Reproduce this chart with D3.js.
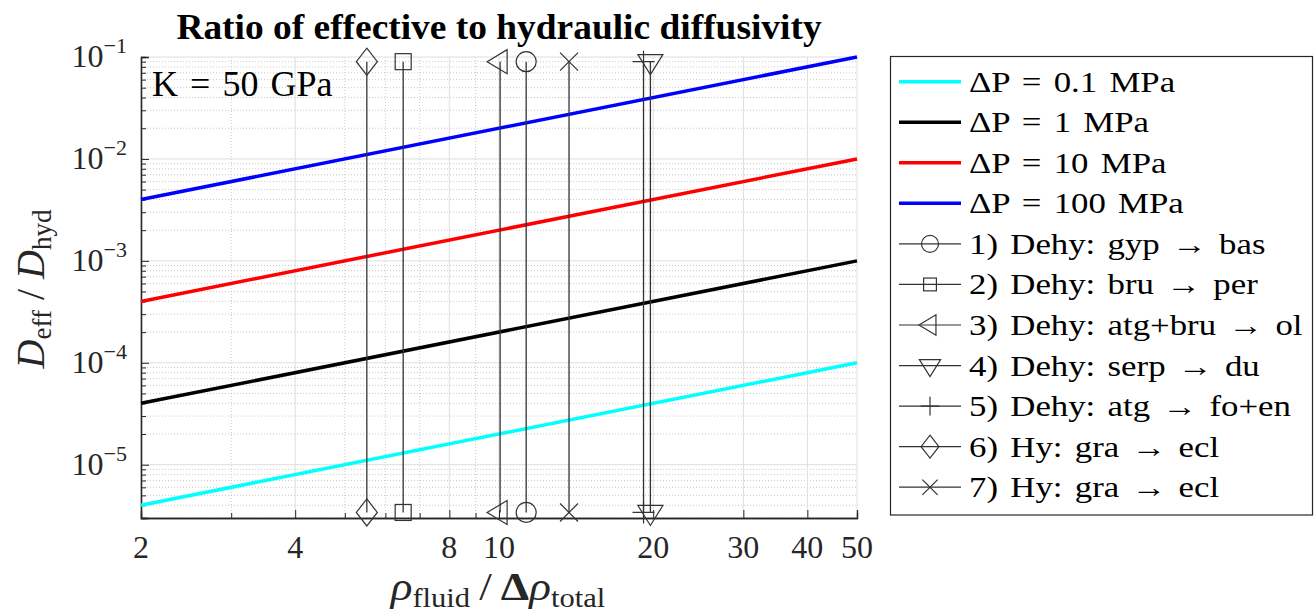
<!DOCTYPE html>
<html>
<head>
<meta charset="utf-8">
<script src="https://cdn.jsdelivr.net/npm/d3@7"></script>
<style>
  body { margin: 0; background: #fff; }
  svg { display: block; font-family: "Liberation Serif", "DejaVu Serif", serif; }
</style>
</head>
<body>
<div id="chart"></div>
<script>
// --- data ---
const xEnds = [2, 50];
const pressureLabels = ["ΔP = 0.1 MPa", "ΔP = 1 MPa", "ΔP = 10 MPa", "ΔP = 100 MPa"];
const ratioAtEnds = [
    [4e-6, 1e-4],
    [4e-5, 1e-3],
    [4e-4, 1e-2],
    [4e-3, 1e-1]
];
const reactionLabels = [
    "1) Dehy: gyp → bas",
    "2) Dehy: bru → per",
    "3) Dehy: atg+bru → ol",
    "4) Dehy: serp → du",
    "5) Dehy: atg → fo+en",
    "6) Hy: gra → ecl",
    "7) Hy: gra → ecl"
];
const reactionX = [11.3, 6.5, 10.05, 19.75, 19.15, 5.52, 13.7];
const reactionSymbols = ["circle", "square", "triLeft", "triDown", "plus", "diamond", "cross"];
const markerY = [3.4e-6, 0.09];
const xTickValues = [2, 4, 8, 10, 20, 30, 40, 50];
const yTickValues = [1e-5, 1e-4, 1e-3, 1e-2, 1e-1];

const lineColors = ["#00ffff", "#000000", "#ff0000", "#0000ff"];

const config = {
    width: 1314, height: 616,
    left: 141, right: 857, top: 57, bottom: 518,
    axisColor: "#262626"
};

const svg = d3.select("#chart").append("svg")
    .attr("width", config.width)
    .attr("height", config.height);

// stretch a text horizontally so it spans the given width (the LaTeX font is wider than Times)
function stretchX(sel, target, ax) {
    const w = sel.node().getBBox().width;
    sel.attr("transform", `translate(${ax},0) scale(${target / w},1) translate(${-ax},0)`);
}

const x = d3.scaleLog().domain([2, 50]).range([config.left, config.right]);
const y = d3.scaleLog().domain([3e-6, 0.1]).range([config.bottom, config.top]);

// grid: minor dotted first, then major solid
const xMinor = x.ticks().filter(v => !xTickValues.includes(v));
const yMinor = y.ticks().filter(v => !yTickValues.some(t => Math.abs(t - v) / t < 1e-6));

const grid = svg.append("g");
grid.selectAll(".xminor").data(xMinor).enter().append("line")
    .attr("x1", d => x(d)).attr("x2", d => x(d))
    .attr("y1", config.top).attr("y2", config.bottom)
    .attr("stroke", "#bdbdbd").attr("stroke-width", 0.8).attr("stroke-dasharray", "1,2");
grid.selectAll(".yminor").data(yMinor).enter().append("line")
    .attr("y1", d => y(d)).attr("y2", d => y(d))
    .attr("x1", config.left).attr("x2", config.right)
    .attr("stroke", "#bdbdbd").attr("stroke-width", 0.8).attr("stroke-dasharray", "1,2");
grid.selectAll(".xmajor").data(xTickValues).enter().append("line")
    .attr("x1", d => x(d)).attr("x2", d => x(d))
    .attr("y1", config.top).attr("y2", config.bottom)
    .attr("stroke", "#dedede").attr("stroke-width", 1);
grid.selectAll(".ymajor").data(yTickValues).enter().append("line")
    .attr("y1", d => y(d)).attr("y2", d => y(d))
    .attr("x1", config.left).attr("x2", config.right)
    .attr("stroke", "#dedede").attr("stroke-width", 1);

// axes (ticks pointing inward, MATLAB style)
const xAxis = svg.append("g")
    .attr("transform", `translate(0,${config.bottom})`)
    .call(d3.axisTop(x).tickValues(xTickValues).tickSize(8).tickFormat(""));
xAxis.append("g").call(d3.axisTop(x).tickValues(xMinor).tickSize(5).tickFormat(""));
xAxis.selectAll("path.domain").attr("stroke", config.axisColor).attr("stroke-width", 1.3);
xAxis.selectAll("line").attr("stroke", config.axisColor);

const yAxis = svg.append("g")
    .attr("transform", `translate(${config.left},0)`)
    .call(d3.axisRight(y).tickValues(yTickValues).tickSize(8).tickFormat(""));
yAxis.append("g").call(d3.axisRight(y).tickValues(yMinor).tickSize(5).tickFormat(""));
yAxis.selectAll("path.domain").attr("stroke", config.axisColor).attr("stroke-width", 1.3);
yAxis.selectAll("line").attr("stroke", config.axisColor);

// tick labels
svg.append("g").selectAll("text").data(xTickValues).enter().append("text")
    .attr("x", d => x(d)).attr("y", config.bottom + 40)
    .attr("text-anchor", "middle")
    .attr("font-size", 32).attr("fill", config.axisColor)
    .text(d => d);

const yLab = svg.append("g").selectAll("text").data(yTickValues).enter().append("text")
    .attr("x", 127).attr("y", d => y(d) + 10)
    .attr("text-anchor", "end")
    .attr("font-size", 32).attr("fill", config.axisColor);
yLab.append("tspan").text("10");
yLab.append("tspan").attr("dy", -14).attr("font-size", 22)
    .text(d => "−" + Math.round(-Math.log10(d)));

// series lines
const line = d3.line().x(d => x(d[0])).y(d => y(d[1]));
svg.append("g").selectAll("path").data(ratioAtEnds).enter().append("path")
    .attr("d", d => line(xEnds.map((xv, i) => [xv, d[i]])))
    .attr("fill", "none")
    .attr("stroke", (d, i) => lineColors[i])
    .attr("stroke-width", 3.5);

// marker shapes
function drawMarker(g, kind, cx, cy, scale) {
    const s = scale || 1;
    let el;
    if (kind === "circle") {
        el = g.append("circle").attr("cx", cx).attr("cy", cy).attr("r", 10 * s);
    } else if (kind === "square") {
        el = g.append("rect").attr("x", cx - 8 * s).attr("y", cy - 8 * s)
            .attr("width", 16 * s).attr("height", 16 * s);
    } else if (kind === "triLeft") {
        el = g.append("path").attr("d",
            `M${cx - 13 * s},${cy} L${cx + 7 * s},${cy - 12 * s} L${cx + 7 * s},${cy + 12 * s} Z`);
    } else if (kind === "triDown") {
        el = g.append("path").attr("d",
            `M${cx - 12.5 * s},${cy - 7 * s} L${cx + 12.5 * s},${cy - 7 * s} L${cx},${cy + 13 * s} Z`);
    } else if (kind === "plus") {
        el = g.append("path").attr("d",
            `M${cx - 11 * s},${cy} L${cx + 11 * s},${cy} M${cx},${cy - 11 * s} L${cx},${cy + 11 * s}`);
    } else if (kind === "diamond") {
        el = g.append("path").attr("d",
            `M${cx},${cy - 13.5 * s} L${cx + 10.5 * s},${cy} L${cx},${cy + 13.5 * s} L${cx - 10.5 * s},${cy} Z`);
    } else if (kind === "cross") {
        el = g.append("path").attr("d",
            `M${cx - 9 * s},${cy - 9 * s} L${cx + 9 * s},${cy + 9 * s} M${cx - 9 * s},${cy + 9 * s} L${cx + 9 * s},${cy - 9 * s}`);
    }
    el.attr("fill", "none").attr("stroke", "#333").attr("stroke-width", 1.2);
}

// reaction vertical lines with markers at both ends
const rx = svg.append("g");
reactionX.forEach((xv, i) => {
    rx.append("line")
        .attr("x1", x(xv)).attr("x2", x(xv))
        .attr("y1", y(markerY[0])).attr("y2", y(markerY[1]))
        .attr("stroke", "#333").attr("stroke-width", 1.3);
    markerY.forEach(yv => drawMarker(rx, reactionSymbols[i], x(xv), y(yv)));
});

// annotation
const kLab = svg.append("text").attr("x", 152).attr("y", 96)
    .attr("font-size", 35).attr("fill", "#000")
    .attr("word-spacing", 3)
    .text("K = 50 GPa");
stretchX(kLab, 181, 152);

// title
const title = svg.append("text").attr("x", 499).attr("y", 39)
    .attr("text-anchor", "middle")
    .attr("font-size", 35).attr("font-weight", "bold")
    .text("Ratio of effective to hydraulic diffusivity");
stretchX(title, 646, 499);

// x label
const xl = svg.append("text").attr("x", 498).attr("y", 600)
    .attr("text-anchor", "middle").attr("font-size", 40).attr("fill", "#262626");
xl.append("tspan").attr("font-style", "italic").text("ρ");
xl.append("tspan").attr("font-size", 27).attr("dy", 7).text("fluid");
xl.append("tspan").attr("dy", -7).text("\u2009/\u2009");
xl.append("tspan").attr("font-weight", "bold").text("Δ");
xl.append("tspan").attr("font-style", "italic").text("ρ");
xl.append("tspan").attr("font-size", 27).attr("dy", 7).text("total");
stretchX(xl, 217, 498);

// y label
const yl = svg.append("text")
    .attr("transform", "translate(44,289) rotate(-90)")
    .attr("text-anchor", "middle").attr("font-size", 40).attr("fill", "#262626");
yl.append("tspan").attr("font-style", "italic").text("D");
yl.append("tspan").attr("font-size", 27).attr("dy", 7).text("eff");
yl.append("tspan").attr("dy", -7).text(" / ");
yl.append("tspan").attr("font-style", "italic").text("D");
yl.append("tspan").attr("font-size", 27).attr("dy", 7).text("hyd");

// legend
const legend = svg.append("g");
legend.append("rect")
    .attr("x", 890.5).attr("y", 56.5).attr("width", 422).attr("height", 458.5)
    .attr("fill", "#fff").attr("stroke", "#262626").attr("stroke-width", 1.2);
const rowY = i => 81.7 + i * 40.55;
function legendText(i, lab) {
    legend.append("text")
        .attr("transform", `translate(969,${rowY(i) + 10}) scale(1.2,1)`)
        .attr("font-size", 29).attr("word-spacing", 3)
        .text(lab);
}
pressureLabels.forEach((lab, i) => {
    legend.append("line")
        .attr("x1", 899).attr("x2", 961).attr("y1", rowY(i)).attr("y2", rowY(i))
        .attr("stroke", lineColors[i]).attr("stroke-width", 3.5);
    legendText(i, lab);
});
reactionLabels.forEach((lab, j) => {
    const i = j + 4;
    legend.append("line")
        .attr("x1", 899).attr("x2", 961).attr("y1", rowY(i)).attr("y2", rowY(i))
        .attr("stroke", "#333").attr("stroke-width", 1.2);
    drawMarker(legend, reactionSymbols[j], 930, rowY(i), reactionSymbols[j] === "square" ? 0.8 : 0.85);
    legendText(i, lab);
});
</script>
</body>
</html>
